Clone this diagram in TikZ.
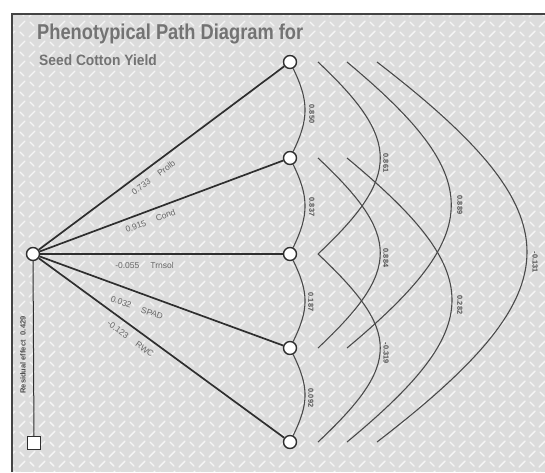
\documentclass[tikz,border=0pt]{standalone}
\usepackage{fontspec}
\setmainfont{Liberation Sans}
\definecolor{bgc}{HTML}{DCDCDC}
\definecolor{linec}{HTML}{2E2E2E}
\definecolor{arcc}{HTML}{4A4A4A}
\definecolor{labc}{HTML}{666666}
\definecolor{clabc}{HTML}{4F4F4F}
\definecolor{titc}{HTML}{737373}
\definecolor{framec}{HTML}{444444}
\begin{document}
\begin{tikzpicture}[x=1pt,y=-1pt,
  pt/.style={circle,draw=linec,fill=white,line width=1.4pt,minimum size=13pt,inner sep=0pt},
  resbox/.style={rectangle,draw=linec,fill=white,line width=1.2pt,minimum size=13pt,inner sep=0pt},
  conn/.style={draw=linec,line width=1.7pt},
  arcl/.style={draw=arcc,line width=1.1pt},
  elab/.style={font=\fontsize{8.5}{8.5}\selectfont,text=labc,inner sep=1pt},
  clab/.style={font=\fontsize{7.3}{7.3}\selectfont\bfseries,text=clabc,inner sep=0pt,rotate=-90},
  plate/.style={draw=white,line width=1.4pt,line cap=round,opacity=0.75},
]
\useasboundingbox (0,0) rectangle (545,472);
\fill[white] (0,0) rectangle (545,472);
\begin{scope}
  \clip (12,14) rectangle (545,472);
  \fill[bgc] (12,14) rectangle (545,472);
  \foreach \i in {0,...,53}{\foreach \j in {0,...,46}{
    \pgfmathtruncatemacro\pp{mod(\i+\j,2)}
    \ifnum\pp=0
      \draw[plate] ({12+\i*10-3},{14+\j*10+3}) -- ++(6,-6);
    \else
      \draw[plate] ({12+\i*10-2},{14+\j*10-2}) -- ++(4,4);
    \fi
  }}
\end{scope}
\draw[framec,line width=2pt] (12,472) -- (12,14) -- (545,14);

% titles
\node[anchor=base west,text=titc,font=\fontsize{21.5}{21.5}\selectfont\bfseries,inner sep=0pt] (title) at (37,39) {\scalebox{0.85}[1]{Phenotypical Path Diagram for}};
\node[anchor=base west,text=titc,font=\fontsize{15}{15}\selectfont\bfseries,inner sep=0pt] (subtitle) at (39,65) {\scalebox{0.92}[1]{Seed Cotton Yield}};

% far arcs (start/end coordinates)
\coordinate (a13t) at (318,62);  \coordinate (a13b) at (318,254);
\coordinate (a24t) at (318,158); \coordinate (a24b) at (318,348);
\coordinate (a35t) at (318,254); \coordinate (a35b) at (318,442);
\coordinate (a14t) at (347,62);  \coordinate (a14b) at (347,348);
\coordinate (a25t) at (347,158); \coordinate (a25b) at (347,442);
\coordinate (a15t) at (377,62);  \coordinate (a15b) at (377,442);

\draw[arcl] (a13t) .. controls (401,140) and (401,176) .. (a13b);
\draw[arcl] (a24t) .. controls (401,236) and (401,270) .. (a24b);
\draw[arcl] (a35t) .. controls (401,332) and (401,364) .. (a35b);
\draw[arcl] (a14t) .. controls (486,178) and (486,232) .. (a14b);
\draw[arcl] (a25t) .. controls (487,274) and (487,326) .. (a25b);
\draw[arcl] (a15t) .. controls (577,216) and (577,288) .. (a15b);

% nodes
\node[pt] (L) at (33,254) {};
\node[pt] (n1) at (290,62) {};
\node[pt] (n2) at (290,158) {};
\node[pt] (n3) at (290,254) {};
\node[pt] (n4) at (290,348) {};
\node[pt] (n5) at (290,442) {};
\node[resbox] (sq) at (34,443) {};

% adjacent arcs
\draw[arcl] (n1) .. controls (309,101) and (309,119) .. (n2);
\draw[arcl] (n2) .. controls (309,197) and (309,215) .. (n3);
\draw[arcl] (n3) .. controls (309,293) and (309,309) .. (n4);
\draw[arcl] (n4) .. controls (309,387) and (309,403) .. (n5);

% connectors
\draw[conn] (L) -- node[elab,sloped,pos=0.44,below=6pt] (t1) {0.733\hspace{11pt}Prolb} (n1);
\draw[conn] (L) -- node[elab,sloped,pos=0.44,below=5pt] (t2) {0.915\hspace{11pt}Cond} (n2);
\draw[conn] (L) -- node[elab,sloped,pos=0.43,below=6pt] (t3) {-0.055\hspace{11pt}Trnsol} (n3);
\draw[conn] (L) -- node[elab,sloped,pos=0.42,below=10pt] (t4) {0.032\hspace{11pt}SPAD} (n4);
\draw[conn] (L) -- node[elab,sloped,pos=0.40,below=6pt] (t5) {-0.123\hspace{11pt}RWC} (n5);
\draw[draw=linec,line width=1pt] (L) -- (sq);

% labels
\node[font=\fontsize{7.5}{7.5}\selectfont\bfseries,text=clabc,rotate=90,inner sep=0pt] (res) at (23,355) {Residual effect\hspace{5pt}0.429};
\node[clab] (c12) at (312,114) {0.850};
\node[clab] (c23) at (312,207) {0.837};
\node[clab] (c34) at (311,302) {0.187};
\node[clab] (c45) at (311,398) {0.092};
\node[clab] (c13) at (386,163) {0.861};
\node[clab] (c24) at (386,258) {0.884};
\node[clab] (c35) at (386,353) {-0.319};
\node[clab] (c14) at (460,205) {0.889};
\node[clab] (c25) at (460,305) {0.282};
\node[clab] (c15) at (535,262) {-0.131};
\end{tikzpicture}
\end{document}
